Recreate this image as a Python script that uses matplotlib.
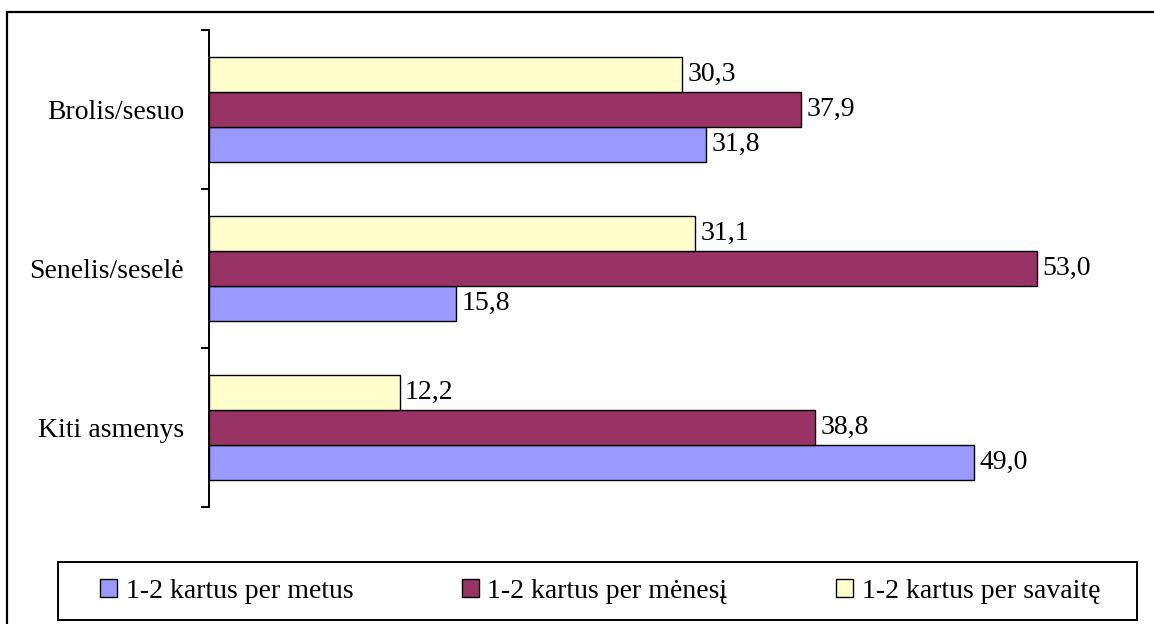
import matplotlib.pyplot as plt
import matplotlib.patches as patches
import numpy as np

plt.rcParams['font.family'] = ['Liberation Serif', 'DejaVu Serif']

# data
categories = ["Brolis/sesuo", "Senelis/seselė", "Kiti asmenys"]
series_names = ["1-2 kartus per metus", "1-2 kartus per mėnesį", "1-2 kartus per savaitę"]
metus = [31.8, 15.8, 49.0]
menesi = [37.9, 53.0, 38.8]
savaite = [30.3, 31.1, 12.2]

colors = ["#9999FF", "#993366", "#FFFFCC"]

W, H = 1154, 624
fig = plt.figure(figsize=(W / 100, H / 100), dpi=100)

# axes placed in pixel terms
left, right, top, bottom = 209, 1146, 30, 507
ax = fig.add_axes([left / W, 1 - bottom / H, (right - left) / W, (bottom - top) / H])

y = np.arange(len(categories))
h = 0.219
fs = 20

# inverted y: positive offset goes down, so blue is lowest
bars_b = ax.barh(y + h, metus, height=h, color=colors[0], edgecolor="black", linewidth=1.0, label=series_names[0])
bars_p = ax.barh(y, menesi, height=h, color=colors[1], edgecolor="black", linewidth=1.0, label=series_names[1])
bars_y = ax.barh(y - h, savaite, height=h, color=colors[2], edgecolor="black", linewidth=1.0, label=series_names[2])

for bars, vals in [(bars_b, metus), (bars_p, menesi), (bars_y, savaite)]:
    ax.bar_label(bars, labels=[f"{v:.1f}".replace(".", ",") for v in vals],
                 padding=4, fontsize=fs)

ax.set_xlim(0, 60)
ax.set_ylim(2.5, -0.5)

ax.set_yticks(y)
ax.set_yticklabels(categories, fontsize=fs)
ax.tick_params(axis="y", which="major", length=0, pad=18)
ax.set_yticks([-0.5, 0.5, 1.5, 2.5], minor=True)
ax.tick_params(axis="y", which="minor", length=6, width=1.4, direction="out")

ax.set_xticks([])
for s in ["top", "right", "bottom"]:
    ax.spines[s].set_visible(False)
ax.spines["left"].set_linewidth(1.4)

# legend in the order of the reference
leg = fig.legend(handles=[bars_b, bars_p, bars_y], labels=series_names,
                 loc="center", bbox_to_anchor=(600 / W, 1 - 591 / H),
                 ncol=3, frameon=False, fontsize=fs,
                 handlelength=0.63, handleheight=0.63, handletextpad=0.3,
                 columnspacing=3.9)

# legend box
fig.add_artist(patches.Rectangle((58 / W, 1 - 620 / H), (1137 - 58) / W, (620 - 562) / H,
                                 transform=fig.transFigure, fill=False,
                                 edgecolor="black", linewidth=1.4))
# outer chart frame
fig.add_artist(patches.Rectangle((7 / W, -0.5), 2.0, 1 - 12 / H + 0.5,
                                 transform=fig.transFigure, fill=False,
                                 edgecolor="black", linewidth=1.6, clip_on=False))

fig.savefig("out.png", dpi=100)
